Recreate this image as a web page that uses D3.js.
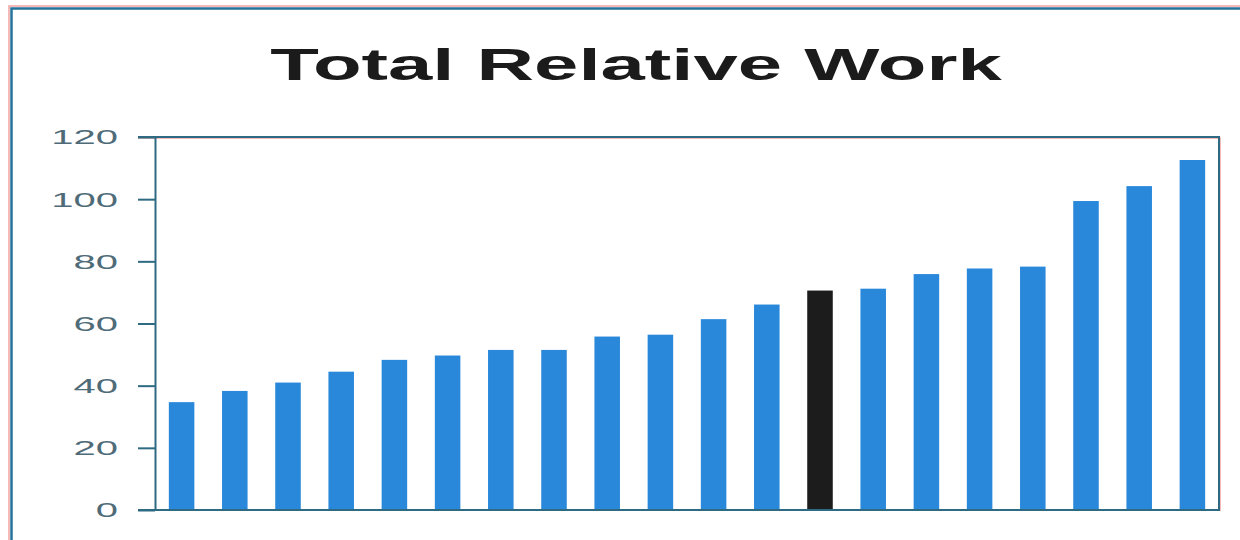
<!DOCTYPE html>
<html>
<head>
<meta charset="utf-8">
<script src="https://cdn.jsdelivr.net/npm/d3@7"></script>
<style>
  html, body { margin: 0; padding: 0; background: #ffffff; }
  svg { display: block; }
</style>
</head>
<body>
<svg id="chart" width="1240" height="540"></svg>
<script>
// Data: one bar per entry, sorted ascending; the highlighted one is drawn dark.
const categories = ["A1","A2","A3","A4","A5","A6","A7","A8","A9","A10",
                    "A11","A12","A13","A14","A15","A16","A17","A18","A19","A20"];
const values = [34.7, 38.3, 41.0, 44.5, 48.3, 49.7, 51.5, 51.5, 55.8, 56.4,
                61.4, 66.1, 70.6, 71.2, 75.9, 77.7, 78.3, 99.4, 104.2, 112.6];
const highlighted = ["A13"];
const yTicks = [0, 20, 40, 60, 80, 100, 120];
const titleText = "Total Relative Work";

const svg = d3.select("#chart");
const W = 1240, H = 540;

const plot = { left: 155, right: 1219, top: 137, bottom: 510 };
const axisColor = "#2e6a82";
const fringe = "#f2a3a0";
const barColor = "#2a88da";
const darkColor = "#1c1c1c";

// Outer frame (runs past the right and bottom edges of the page)
svg.append("rect")
  .attr("x", 9).attr("y", 6)
  .attr("width", W + 20).attr("height", H + 20)
  .attr("fill", "none").attr("stroke", fringe).attr("stroke-width", 1.5);
svg.append("rect")
  .attr("x", 11.5).attr("y", 8.5)
  .attr("width", W + 20).attr("height", H + 20)
  .attr("fill", "none").attr("stroke", "#24739a").attr("stroke-width", 2.5);

// Title, wide bold lettering
svg.append("text")
  .attr("transform", `translate(636,80) scale(1.77,1)`)
  .attr("text-anchor", "middle")
  .attr("font-family", "Liberation Sans, Arial, sans-serif")
  .attr("font-weight", "bold")
  .attr("font-size", 45)
  .attr("fill", "#1b1b1b")
  .text(titleText);

const x = d3.scaleBand()
  .domain(categories)
  .range([plot.left, plot.right])
  .paddingInner(0.52)
  .paddingOuter(0.26);

const y = d3.scaleLinear()
  .domain([0, 120])
  .range([plot.bottom, plot.top]);

// Bars
svg.append("g")
  .selectAll("rect")
  .data(categories.map((c, i) => ({ c, v: values[i] })))
  .join("rect")
  .attr("x", d => x(d.c))
  .attr("width", x.bandwidth())
  .attr("y", d => y(d.v))
  .attr("height", d => y(0) - y(d.v))
  .attr("fill", d => highlighted.includes(d.c) ? darkColor : barColor);

// Plot frame: top, right and bottom edges
const frame = svg.append("g").attr("fill", "none");
frame.append("path")
  .attr("d", `M${plot.left - 17},${plot.top + 1}H${plot.right + 1}V${plot.bottom + 1}`)
  .attr("stroke", fringe).attr("stroke-width", 1.5);
frame.append("path")
  .attr("d", `M${plot.left - 17},${plot.top}H${plot.right}V${plot.bottom}H${plot.left - 17}`)
  .attr("stroke", axisColor).attr("stroke-width", 2);

// Y axis with outward ticks
const yAxis = svg.append("g")
  .attr("transform", `translate(${plot.left},0)`)
  .call(d3.axisLeft(y).tickValues(yTicks).tickSize(17).tickSizeOuter(0));

yAxis.select(".domain").attr("stroke", axisColor).attr("stroke-width", 2);
yAxis.selectAll(".tick line").attr("stroke", axisColor).attr("stroke-width", 2);
yAxis.selectAll(".tick text")
  .attr("x", null)
  .attr("dy", null)
  .attr("transform", "translate(-37,0) scale(2,1)")
  .attr("dominant-baseline", "central")
  .attr("text-anchor", "end")
  .attr("font-family", "Liberation Sans, Arial, sans-serif")
  .attr("font-size", 20)
  .attr("fill", "#4f6b78");
</script>
</body>
</html>
